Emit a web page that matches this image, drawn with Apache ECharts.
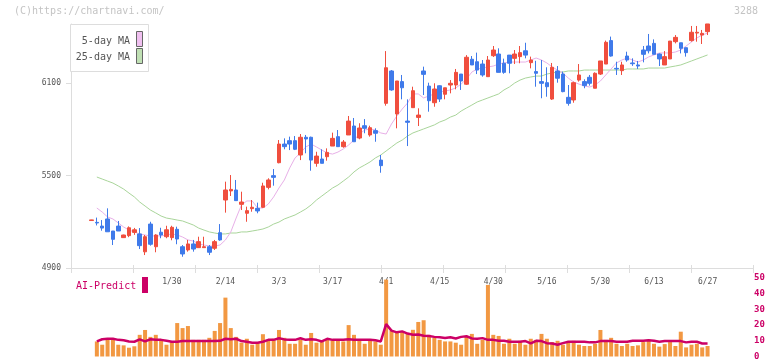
<!DOCTYPE html>
<html><head><meta charset="utf-8">
<script src="https://cdn.jsdelivr.net/npm/echarts@6/dist/echarts.min.js"></script>
<style>html,body{margin:0;padding:0;background:#fff}#c{width:772px;height:361px}</style>
</head><body><div id="c"></div>
<script>
const dates = ["1/8","1/9","1/10","1/14","1/15","1/16","1/17","1/20","1/21","1/22","1/23","1/24","1/27","1/28","1/29","1/30","1/31","2/3","2/4","2/5","2/6","2/7","2/10","2/12","2/13","2/14","2/17","2/18","2/19","2/20","2/21","2/25","2/26","2/27","2/28","3/3","3/4","3/5","3/6","3/7","3/10","3/11","3/12","3/13","3/14","3/17","3/18","3/19","3/21","3/24","3/25","3/26","3/27","3/28","3/31","4/1","4/2","4/3","4/4","4/7","4/8","4/9","4/10","4/11","4/14","4/15","4/16","4/17","4/18","4/21","4/22","4/23","4/24","4/25","4/28","4/30","5/1","5/2","5/7","5/8","5/9","5/12","5/13","5/14","5/15","5/16","5/19","5/20","5/21","5/22","5/23","5/26","5/27","5/28","5/29","5/30","6/2","6/3","6/4","6/5","6/6","6/9","6/10","6/11","6/12","6/13","6/16","6/17","6/18","6/19","6/20","6/23","6/24","6/25","6/26","6/27"];

const opens = [5208,5196,5172,5218,5140,5172,5097,5110,5131,5121, 5005,5185,5038,5132,5103,5097,5151,5038,5017,5056, 5032,5032,5038,5028,5129,5341,5400,5406,5313,5255, 5285,5287,5294,5423,5499,5583,5704,5726,5726,5633, 5748,5748,5579,5607,5622,5691,5752,5687,5763,5821, 5743,5823,5763,5791,5600,5968,6178,5899,6109,5853, 5940,5877,6178,6080,5972,6082,6027,6087,6087,6158, 6092,6254,6238,6223,6141,6277,6288,6228,6281,6260, 6271,6309,6232,6174,6109,6102,5996,6178,6158,6007, 5990,6119,6109,6137,6066,6158,6223,6375,6195,6180, 6275,6230,6217,6314,6340,6357,6288,6217,6256,6368, 6361,6329,6375,6424,6411,6433];
const closes = [5212,5192,5159,5135,5086,5140,5114,5161,5148,5045, 5103,5054,5114,5114,5148,5164,5088,4991,5056,5023, 5071,5038,5002,5071,5082,5406,5410,5337,5328,5272, 5294,5270,5432,5471,5488,5704,5687,5704,5670,5748, 5737,5600,5626,5579,5650,5741,5687,5717,5853,5719, 5808,5806,5810,5774,5564,6199,6055,6113,6069,5845, 6050,5892,6156,5985,6061,5996,6069,6098,6169,6113, 6267,6217,6184,6152,6249,6314,6169,6169,6228,6288, 6297,6281,6249,6163,6098,6076,6202,6131,6044,5968, 6102,6152,6083,6098,6163,6243,6364,6275,6191,6217, 6249,6225,6210,6286,6309,6286,6256,6271,6372,6396, 6325,6297,6429,6429,6422,6483];
const lows = [5207,5176,5142,5135,5049,5140,5095,5100,5115,5023, 4984,5045,5002,5093,5093,5080,5054,4973,5006,5006, 5030,5032,4984,5017,5077,5259,5367,5337,5276,5200, 5265,5255,5290,5410,5434,5579,5670,5665,5665,5600, 5644,5531,5557,5579,5596,5691,5687,5680,5763,5719, 5735,5774,5752,5719,5518,5953,6050,5806,5994,5691, 5940,5821,6022,5914,5946,5977,5994,6033,6059,6055, 6087,6217,6158,6141,6141,6269,6169,6160,6163,6223, 6228,6260,6195,6076,6001,6011,5990,6102,6040,5953, 5972,6109,6066,6083,6066,6152,6223,6271,6152,6152, 6238,6211,6191,6234,6292,6286,6210,6217,6256,6357, 6292,6271,6368,6368,6353,6411];
const highs = [5213,5227,5211,5287,5140,5205,5116,5170,5160,5159, 5114,5200,5119,5161,5174,5174,5168,5049,5082,5082, 5103,5103,5049,5082,5185,5460,5503,5471,5395,5298, 5341,5324,5453,5482,5542,5730,5741,5752,5756,5769, 5763,5752,5654,5670,5676,5778,5795,5730,5886,5873, 5839,5866,5823,5806,5633,6307,6184,6113,6152,5994, 6076,5936,6206,6102,6098,6085,6069,6119,6191,6158, 6281,6275,6297,6249,6275,6340,6325,6258,6281,6314, 6340,6361,6271,6244,6249,6202,6230,6210,6174,6087, 6109,6223,6124,6152,6169,6243,6375,6401,6238,6238, 6303,6260,6243,6340,6418,6383,6292,6307,6372,6411, 6361,6329,6470,6470,6444,6483];

const ma5 = [null,5289,5263,5231,5218,5192,5166,5146,5134,5121, 5114,5108,5108,5108,5114,5121,5114,5101,5082,5075, 5056,5049,5043,5043,5049,5082,5134,5224,5309,5335, 5335,5289,5289,5315,5361,5419,5471,5549,5614,5646, 5685,5704,5685,5665,5646,5639,5652,5672,5698,5730, 5769,5795,5802,5795,5776,5769,5834,5886,5931,5970, 6029,6029,6003,6016,6029,6042,6048,6055,6068,6093, 6126,6171,6191,6197,6204,6210,6223,6230,6236,6236, 6236,6236,6249,6262,6249,6230,6204,6184,6165,6132, 6106,6093,6081,6074,6087,6113,6152,6191,6230,6249, 6262,6249,6236,6249,6269,6282,6295,6295,6295,6301, 6314,6340,6366,6392,6411,6424];
const ma25 = [null,5490,5477,5464,5451,5432,5412,5386,5361,5328, 5302,5276,5257,5237,5224,5218,5211,5205,5192,5179, 5159,5146,5134,5127,5121,5121,5127,5127,5134,5134, 5140,5146,5153,5166,5185,5198,5218,5231,5244,5263, 5283,5309,5341,5367,5393,5419,5438,5464,5490,5523, 5549,5568,5588,5614,5633,5659,5685,5711,5730,5756, 5776,5789,5802,5815,5828,5847,5860,5879,5892,5918, 5938,5957,5977,5990,6003,6016,6029,6055,6074,6100, 6119,6132,6139,6145,6145,6158,6165,6171,6171,6178, 6178,6178,6184,6184,6184,6184,6184,6184,6184,6184, 6191,6191,6191,6191,6197,6197,6197,6197,6204,6210, 6217,6230,6243,6256,6269,6282];

const volume = [null,9.6,7.5,11.3,11.3,7.5,7.1,5.6,6.5,13.8, 16.9,12.5,13.8,10.6,7.5,9.6,21.3,18.1,19.4,10.6, 10.6,10.6,11.9,16.3,21.3,37.5,18.1,12.5,8.8,11.3, 7.5,8.8,14.2,10.6,11.3,16.9,11.9,8.1,8.1,10.6, 7.5,15.0,8.8,9.6,10.6,10.2,10.6,9.6,20.0,13.8, 10.6,8.1,10.6,9.6,7.5,49.0,16.5,15.0,15.8,14.4, 17.0,22.0,23.1,13.8,11.9,10.6,9.6,9.6,8.8,7.5, 12.9,14.4,8.1,10.6,45.6,13.8,13.1,8.1,11.3,8.1, 10.0,7.5,11.3,10.6,14.4,11.3,9.2,10.0,7.5,8.8, 10.0,7.5,6.7,6.7,8.1,16.9,10.6,11.9,8.1,6.7, 8.1,6.7,7.1,9.2,10.6,8.1,6.3,7.9,9.2,6.7, 15.8,5.8,7.5,8.1,5.8,6.7];
const aiPredict = [null,9.6,11.0,11.3,11.3,10.6,10.3,9.6,9.4,10.9, 9.6,11.0,10.6,10.6,10.0,9.4,9.4,9.8,9.8,9.8, 9.8,9.8,9.8,9.8,10.0,11.3,11.0,11.3,9.8,9.4, 8.8,8.8,9.4,10.6,10.6,11.6,10.9,10.6,10.6,11.6, 10.6,11.0,10.6,9.6,11.3,10.6,10.6,10.6,11.0,10.6, 10.6,10.6,10.6,10.3,9.6,20.6,16.5,15.4,16.0,14.6, 13.8,14.0,13.2,13.0,12.5,12.3,11.8,12.3,11.5,12.5, 12.9,11.5,11.3,11.7,10.6,10.6,10.0,10.0,9.4,9.4, 9.4,9.8,8.3,10.0,9.8,8.5,8.3,7.5,8.5,9.4, 9.4,9.4,9.4,9.0,9.0,9.8,9.8,9.8,9.4,9.4, 9.4,10.0,10.0,10.0,10.4,10.0,9.4,9.8,9.8,9.8, 9.8,9.0,9.4,9.4,8.3,8.3];

const priceTicks = [4900, 5500, 6100];
const volumeTicks = [0, 10, 20, 30, 40, 50];

const FONT = 'DejaVu Sans Mono';
const PRICE_MIN = 4900, PRICE_MAX = 4900 + 244 * 600 / 92.5;
const candleData = dates.map((d, i) => [opens[i], closes[i], lows[i], highs[i]]);

const chart = echarts.init(document.getElementById('c'), null, {renderer: 'canvas'});
chart.setOption({
  animation: false,
  backgroundColor: '#fff',
  grid: [
    {left: 71, right: 19, top: 24, bottom: 93},
    {left: 88.82, right: 61.76, top: 24, bottom: 93},
    {left: 88.82, right: 61.76, top: 278, bottom: 3}
  ],
  xAxis: [
    {gridIndex: 0, type: 'value', position: 'bottom', min: 0, max: 11, interval: 1,
     axisLine: {show: true, lineStyle: {color: '#dddddd', width: 1}},
     axisTick: {show: true, length: 5, lineStyle: {color: '#dddddd'}},
     axisLabel: {show: false}, splitLine: {show: false}},
    {gridIndex: 0, type: 'value', position: 'bottom', min: 0, max: 11, interval: 1,
     axisLine: {show: false},
     axisTick: {show: true, inside: true, length: 3, lineStyle: {color: '#dddddd'}},
     axisLabel: {show: false}, splitLine: {show: false}},
    {gridIndex: 1, type: 'category', position: 'bottom', data: dates, boundaryGap: true,
     axisLine: {show: false}, axisTick: {show: false}, splitLine: {show: false},
     axisLabel: {show: true, interval: (idx) => idx >= 15 && (idx - 15) % 10 === 0,
       margin: 10, fontSize: 8, fontFamily: FONT, color: '#555555'}},
    {gridIndex: 2, type: 'category', data: dates, boundaryGap: true, show: false}
  ],
  yAxis: [
    {gridIndex: 0, type: 'value', min: PRICE_MIN, max: PRICE_MAX,
     axisLine: {show: true, lineStyle: {color: '#dddddd'}},
     axisTick: {show: true, length: 5, customValues: priceTicks, lineStyle: {color: '#dddddd'}},
     axisLabel: {show: true, customValues: priceTicks, formatter: (v) => String(Math.round(v)),
       margin: 10, fontSize: 8, fontFamily: FONT, color: '#555555'},
     splitLine: {show: false}},
    {gridIndex: 1, type: 'value', min: PRICE_MIN, max: PRICE_MAX, show: false},
    {gridIndex: 2, type: 'value', min: 0, max: 50, interval: 10, position: 'right', offset: 42.76,
     axisLine: {show: false}, axisTick: {show: false}, splitLine: {show: false},
     axisLabel: {show: true, customValues: volumeTicks, margin: 1, fontSize: 9, fontWeight: 'bold', fontFamily: FONT, color: '#cc0066'}}
  ],
  series: [
    {type: 'line', name: '25-day MA', xAxisIndex: 2, yAxisIndex: 1, data: ma25,
     symbol: 'none', lineStyle: {color: '#a9d59a', width: 1}, z: 1},
    {type: 'line', name: '5-day MA', xAxisIndex: 2, yAxisIndex: 1, data: ma5,
     symbol: 'none', lineStyle: {color: '#e8b0e8', width: 1}, z: 1},
    {type: 'candlestick', xAxisIndex: 2, yAxisIndex: 1, data: candleData, barWidth: 4, clip: false,
     itemStyle: {color: '#f04e3e', color0: '#3f7aea', borderColor: '#f04e3e', borderColor0: '#3f7aea', borderWidth: 1}, z: 2},
    {type: 'bar', xAxisIndex: 3, yAxisIndex: 2, data: volume, barWidth: 4,
     itemStyle: {color: '#f29842'}, z: 1},
    {type: 'line', xAxisIndex: 3, yAxisIndex: 2, data: aiPredict, symbol: 'none',
     lineStyle: {color: '#cc0066', width: 2.5}, z: 3}
  ],
  graphic: [
    {type: 'text', left: 14, top: 6, style: {text: '(C)https://chartnavi.com/', font: '10px ' + FONT, fill: '#c4c4c4'}},
    {type: 'text', left: 734, top: 6, style: {text: '3288', font: '10px ' + FONT, fill: '#c4c4c4'}},
    {type: 'rect', shape: {x: 70.5, y: 24.5, width: 78, height: 47}, style: {fill: '#ffffff', stroke: '#dddddd', lineWidth: 1}, z: 10},
    {type: 'text', x: 130, y: 41, style: {text: '5-day MA', font: '10px ' + FONT, fill: '#555555', align: 'right', verticalAlign: 'middle'}, z: 11},
    {type: 'rect', shape: {x: 136.5, y: 31.5, width: 6, height: 15}, style: {fill: '#f0c0f0', stroke: '#666666', lineWidth: 1}, z: 11},
    {type: 'text', x: 130, y: 57, style: {text: '25-day MA', font: '10px ' + FONT, fill: '#555555', align: 'right', verticalAlign: 'middle'}, z: 11},
    {type: 'rect', shape: {x: 136.5, y: 48.5, width: 6, height: 15}, style: {fill: '#c0e0b4', stroke: '#666666', lineWidth: 1}, z: 11},
    {type: 'text', x: 76, y: 286, style: {text: 'AI-Predict', font: '10px ' + FONT, fill: '#cc0066', verticalAlign: 'middle'}, z: 11},
    {type: 'rect', shape: {x: 142, y: 277, width: 6, height: 16}, style: {fill: '#cc0066'}, z: 11}
  ]
});
</script>
</body></html>
